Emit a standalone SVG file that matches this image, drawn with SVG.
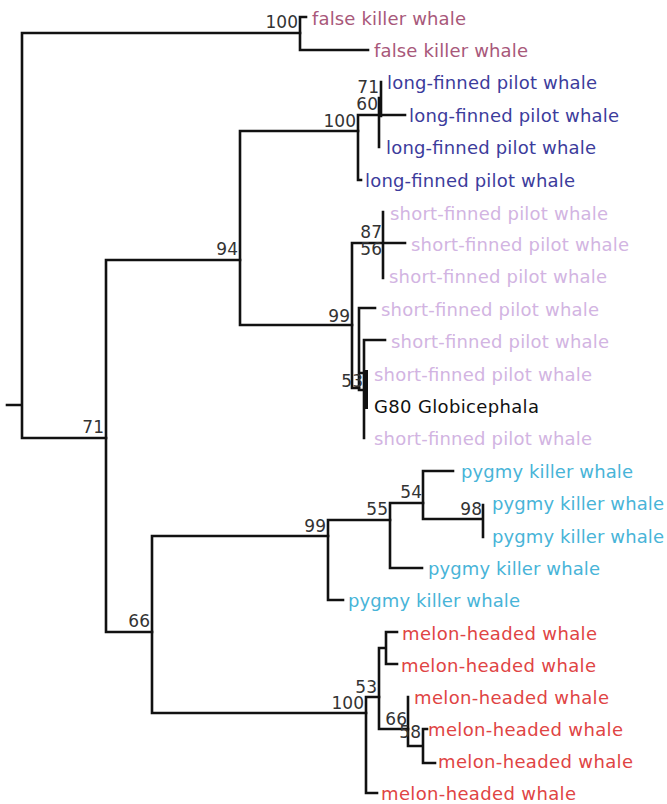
<svg xmlns="http://www.w3.org/2000/svg" width="667" height="804" viewBox="0 0 667 804">
<style>
text{font-family:"DejaVu Sans","Verdana",sans-serif;font-size:18px}
.br{fill:none;stroke:#111;stroke-width:2.6;stroke-linecap:square}
.bs{fill:#333;text-anchor:end;font-size:17px}
.fk{fill:#a8587a}
.lf{fill:#3c3c9c}
.sf{fill:#d2b4e2}
.pk{fill:#48b4d8}
.mh{fill:#e04444}
.g8{fill:#111}
</style>
<rect width="667" height="804" fill="#fff"/>
<g id="connectors">
<path class="br" d="M7,405H22M22,33V438M22,33H300M22,438H106"/>
<path class="br" d="M300,17V50M300,17H306M300,50H368"/>
<path class="br" d="M106,260V632M106,260H240M106,632H152"/>
<path class="br" d="M240,131V325M240,131H358M240,325H352"/>
<path class="br" d="M358,115V180H361M358,115H405M379,98V147M381,82V116"/>
<path class="br" d="M352,243V388H359M352,243H405M383,212V278"/>
<path class="br" d="M359,308V390M359,308H375M359,373H364M359,390H364M364,340V438M364,340H385"/>
<path class="br" d="M366,372V407" style="stroke-width:4"/>
<path class="br" d="M152,536V713M152,536H328M152,713H366"/>
<path class="br" d="M328,520V600M328,520H390M328,600H343"/>
<path class="br" d="M390,503V568M390,503H423M390,568H422"/>
<path class="br" d="M423,471V519M423,471H453M423,519H483M483,505V537"/>
<path class="br" d="M366,697V793M366,697H379M366,793H377"/>
<path class="br" d="M379,648V729M379,648H386M379,729H408M386,632V664M386,632H397M386,664H397"/>
<path class="br" d="M408,697V746M408,746H423M423,729V763M423,729H427M423,763H435"/>
</g>
<g id="support">
<text class="bs" x="298" y="28">100</text>
<text class="bs" x="104" y="433">71</text>
<text class="bs" x="238" y="255">94</text>
<text class="bs" x="356" y="127">100</text>
<text class="bs" x="379" y="93">71</text>
<text class="bs" x="378" y="110">60</text>
<text class="bs" x="350" y="322">99</text>
<text class="bs" x="382" y="238">87</text>
<text class="bs" x="382" y="255">56</text>
<text class="bs" x="363" y="387">53</text>
<text class="bs" x="150" y="627">66</text>
<text class="bs" x="326" y="532">99</text>
<text class="bs" x="388" y="515">55</text>
<text class="bs" x="422" y="498">54</text>
<text class="bs" x="482" y="515">98</text>
<text class="bs" x="364" y="709">100</text>
<text class="bs" x="377" y="693">53</text>
<text class="bs" x="407" y="725">66</text>
<text class="bs" x="421" y="738">58</text>
</g>
<g id="t1"><text class="fk" x="312" y="25" textLength="154">false killer whale</text></g>
<g id="t2"><text class="fk" x="374" y="57" textLength="154">false killer whale</text></g>
<g id="t3"><text class="lf" x="387" y="89" textLength="210">long-finned pilot whale</text></g>
<g id="t4"><text class="lf" x="409" y="122" textLength="210">long-finned pilot whale</text></g>
<g id="t5"><text class="lf" x="386" y="154" textLength="210">long-finned pilot whale</text></g>
<g id="t6"><text class="lf" x="365" y="187" textLength="210">long-finned pilot whale</text></g>
<g id="t7"><text class="sf" x="390" y="220" textLength="218">short-finned pilot whale</text></g>
<g id="t8"><text class="sf" x="411" y="251" textLength="218">short-finned pilot whale</text></g>
<g id="t9"><text class="sf" x="389" y="283" textLength="218">short-finned pilot whale</text></g>
<g id="t10"><text class="sf" x="381" y="316" textLength="218">short-finned pilot whale</text></g>
<g id="t11"><text class="sf" x="391" y="348" textLength="218">short-finned pilot whale</text></g>
<g id="t12"><text class="sf" x="374" y="381" textLength="218">short-finned pilot whale</text></g>
<g id="t13"><text class="g8" x="374" y="413" textLength="165">G80 Globicephala</text></g>
<g id="t14"><text class="sf" x="374" y="445" textLength="218">short-finned pilot whale</text></g>
<g id="t15"><text class="pk" x="461" y="478" textLength="172">pygmy killer whale</text></g>
<g id="t16"><text class="pk" x="492" y="510" textLength="172">pygmy killer whale</text></g>
<g id="t17"><text class="pk" x="492" y="543" textLength="172">pygmy killer whale</text></g>
<g id="t18"><text class="pk" x="428" y="575" textLength="172">pygmy killer whale</text></g>
<g id="t19"><text class="pk" x="348" y="607" textLength="172">pygmy killer whale</text></g>
<g id="t20"><text class="mh" x="402" y="640" textLength="195">melon-headed whale</text></g>
<g id="t21"><text class="mh" x="401" y="672" textLength="195">melon-headed whale</text></g>
<g id="t22"><text class="mh" x="414" y="704" textLength="195">melon-headed whale</text></g>
<g id="t23"><text class="mh" x="428" y="736" textLength="195">melon-headed whale</text></g>
<g id="t24"><text class="mh" x="438" y="768" textLength="195">melon-headed whale</text></g>
<g id="t25"><text class="mh" x="381" y="800" textLength="195">melon-headed whale</text></g>
</svg>
